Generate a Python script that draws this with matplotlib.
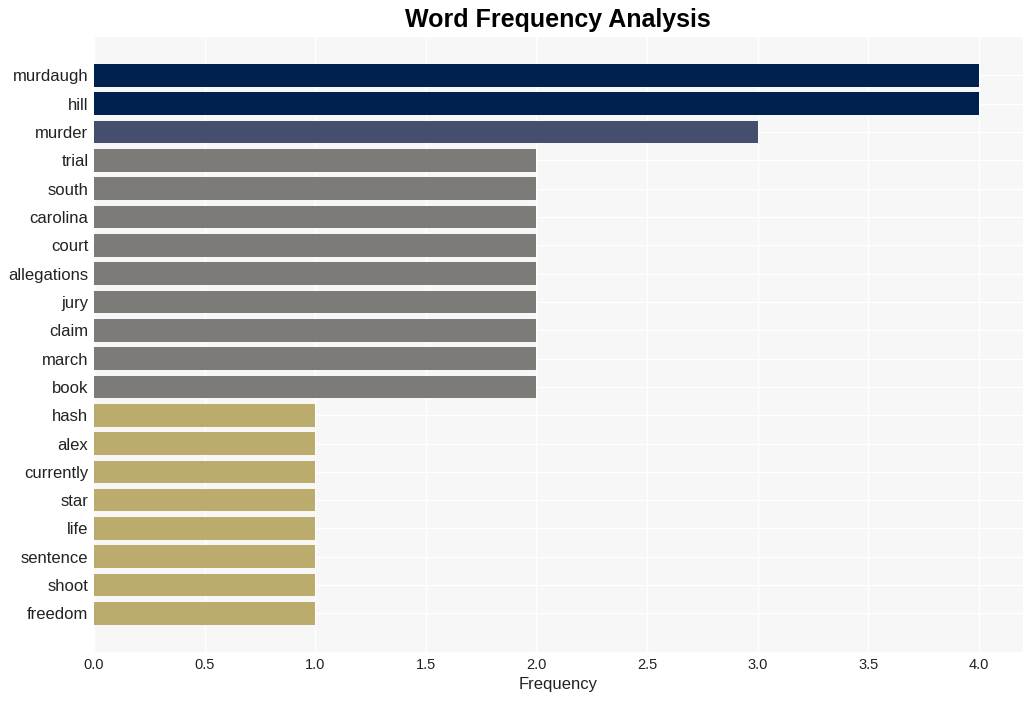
import numpy as np
import matplotlib.pyplot as plt

plt.rcParams['font.family'] = ['Liberation Sans', 'DejaVu Sans']

words = ['murdaugh', 'hill', 'murder', 'trial', 'south', 'carolina', 'court',
         'allegations', 'jury', 'claim', 'march', 'book', 'hash', 'alex',
         'currently', 'star', 'life', 'sentence', 'shoot', 'freedom']
freqs = [4, 4, 3, 2, 2, 2, 2, 2, 2, 2, 2, 2, 1, 1, 1, 1, 1, 1, 1, 1]

freq_colors = {4: '#00204f', 3: '#434f6d', 2: '#7c7b78', 1: '#bbab6d'}
colors = [freq_colors[f] for f in freqs]

fig = plt.figure(figsize=(10.34, 7.01), dpi=100)
ax = fig.add_axes([94/1034, 1 - 652/701, (1023-94)/1034, (652-37)/701])
ax.set_facecolor('#f7f7f7')

y = np.arange(len(words))
ax.barh(y, freqs, height=0.8, color=colors, zorder=2)
ax.set_yticks(y)
ax.set_yticklabels(words, fontsize=12, color='#222222')
ax.set_ylim(20.36, -1.35)
ax.set_xlim(0, 4.2)
ax.set_xticks(np.arange(0, 4.01, 0.5))
ax.tick_params(axis='x', labelsize=10.5, colors='#222222', length=0, pad=4)
ax.tick_params(axis='y', length=0, pad=4)
ax.grid(True, color='white', linewidth=1, zorder=0)
for s in ax.spines.values():
    s.set_visible(False)

ax.set_xlabel('Frequency', fontsize=12, color='#222222', labelpad=4)
fig.text(0.540, 0.972, 'Word Frequency Analysis', fontsize=18, fontweight='bold',
         ha='center', va='center')

fig.savefig('out.png', dpi=100, facecolor='white')
